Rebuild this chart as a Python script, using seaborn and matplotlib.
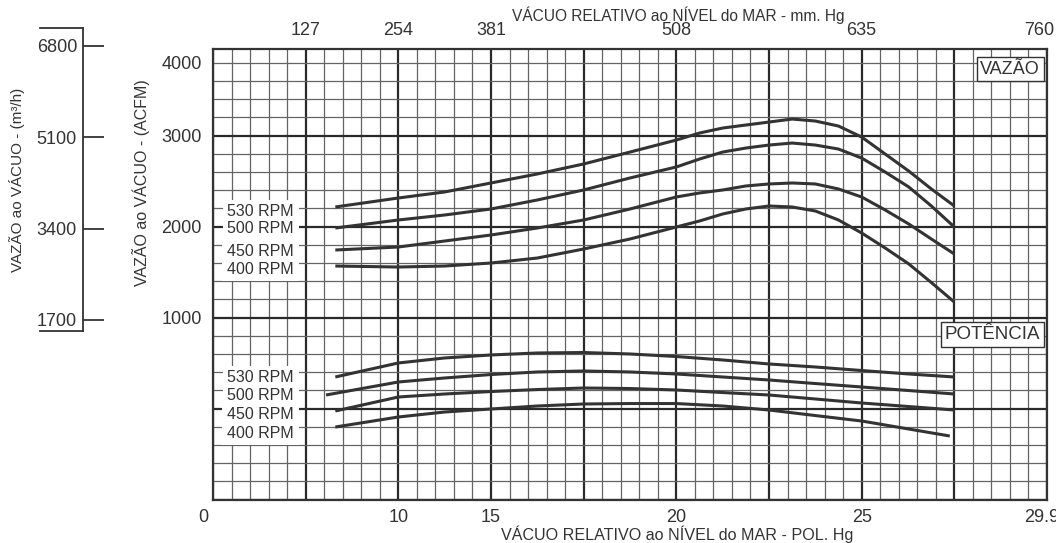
import numpy as np
import pandas as pd
import matplotlib
matplotlib.use('Agg')
import matplotlib.pyplot as plt
import matplotlib.transforms as mtransforms
import seaborn as sns

# escala do papel: pol. Hg -> divisoes maiores do grafico (nao linear)
brk_pol = [0, 5, 10, 15, 20, 25, 29.92]
brk_div = [0, 1, 2, 3, 5, 7, 9]

rpm_names = ['530 RPM', '500 RPM', '450 RPM', '400 RPM']

# curvas de vazao (ACFM)
vaz_x = [6.6, 10, 12.5, 15, 16.25, 17.5, 18.75, 20, 20.625, 21.25, 21.875,
         22.5, 23.125, 23.75, 24.375, 25, 25.625, 26.25, 26.85, 27.46]
vaz_530 = [2216, 2315, 2381, 2480, 2579, 2689, 2820, 2952, 3029, 3084, 3117,
           3150, 3183, 3161, 3106, 2985, 2798, 2611, 2414, 2227]
vaz_500 = [1985, 2073, 2128, 2194, 2293, 2403, 2535, 2656, 2743, 2820, 2864,
           2897, 2919, 2897, 2853, 2754, 2600, 2436, 2227, 1996]
vaz_450 = [1743, 1776, 1842, 1908, 1985, 2073, 2194, 2326, 2370, 2403, 2447,
           2469, 2480, 2469, 2414, 2326, 2183, 2029, 1864, 1699]
vaz_400 = [1567, 1556, 1567, 1600, 1655, 1754, 1864, 1996, 2062, 2139, 2194,
           2227, 2216, 2172, 2073, 1930, 1765, 1590, 1385, 1171]

# curvas de potencia (posicao no papel, sem escala propria)
pot_x = [6.6, 10, 12.5, 15, 16.25, 17.5, 18.75, 20, 21.25, 22.5, 23.75, 25, 26.25, 27.46]
pot_x_500 = [6.1, 10, 12.5, 15, 16.25, 17.5, 18.75, 20, 21.25, 22.5, 23.75, 25, 26.25, 27.46]
pot_x_400 = [6.6, 10, 12.5, 15, 16.25, 17.5, 18.75, 20, 21.25, 22.5, 23.75, 25, 26.25, 27.34]
pot_530 = [347, 501, 556, 589, 611, 616, 600, 572, 534, 490, 457, 418, 380, 347]
pot_500 = [149, 292, 336, 374, 402, 413, 402, 380, 347, 314, 275, 237, 198, 160]
pot_450 = [-27, 127, 160, 187, 209, 226, 220, 204, 176, 149, 105, 61, 22, -16]
pot_400 = [-203, -93, -38, -5, 28, 50, 55, 55, 28, -16, -77, -137, -225, -302]

# eixos
pol_ticks = [0, 10, 15, 20, 25, 29.92]
pol_labels = ['0', '10', '15', '20', '25', '29.92']
mm_ticks = [127, 254, 381, 508, 635, 760]
acfm_ticks = [1000, 2000, 3000, 4000]
m3h_ticks = [1700, 3400, 5100, 6800]

# layout (pixels da figura 1056x543)
W, H = 1056, 543
y_min, y_top = -1000, 3953
lbl_vaz_y = [2161, 1974, 1732, 1534]
lbl_pot_y = [336, 138, -60, -269]
ink = '#333333'


def fwd(x):
    return np.interp(x, brk_pol, brk_div)


def inv(d):
    return np.interp(d, brk_div, brk_pol)


curves = [(vaz_x, vaz_530), (vaz_x, vaz_500), (vaz_x, vaz_450), (vaz_x, vaz_400),
          (pot_x, pot_530), (pot_x_500, pot_500), (pot_x, pot_450), (pot_x_400, pot_400)]
rows = []
for i, (xs, ys) in enumerate(curves):
    for xv, yv in zip(xs, ys):
        rows.append({'curva': i, 'pol_hg': xv, 'valor': yv})
df = pd.DataFrame(rows)

sns.set_style('white')
plt.rcParams['font.family'] = ['Liberation Sans', 'DejaVu Sans']
plt.rcParams['text.color'] = ink

fig = plt.figure(figsize=(W / 100, H / 100), dpi=100)
ax = fig.add_axes([213 / W, 1 - 499.5 / H, 834 / W, 450.5 / H])
ax.set_xscale('function', functions=(fwd, inv))
ax.set_xlim(0, 29.92)
ax.set_ylim(y_min, y_top)

# papel milimetrado
for d in np.arange(0, 9.01, 0.2):
    major = abs(d - round(d)) < 1e-6
    ax.axvline(inv(d), color='#2a2a2a' if major else '#646464',
               lw=1.6 if major else 0.9, zorder=1)
for v in np.arange(y_min, y_top, 200):
    major = v % 1000 == 0
    ax.axhline(v, color='#2a2a2a' if major else '#646464',
               lw=1.6 if major else 0.9, zorder=1)

sns.lineplot(data=df, x='pol_hg', y='valor', units='curva', estimator=None,
             color=ink, linewidth=2.2, sort=False, ax=ax, zorder=3,
             solid_joinstyle='round', solid_capstyle='butt')

for sp in ax.spines.values():
    sp.set_color(ink)
    sp.set_linewidth(1.6)
    sp.set_zorder(5)

ax.set_xticks(pol_ticks)
ax.set_xticklabels(pol_labels)
ax.xaxis.set_minor_locator(plt.NullLocator())
# o rotulo 4000 fica logo abaixo da borda superior, como no original
ax.set_yticks(np.minimum(acfm_ticks, 3810))
ax.set_yticklabels([str(t) for t in acfm_ticks])
ax.tick_params(axis='x', length=0, pad=7, labelsize=13, labelcolor=ink)
ax.tick_params(axis='y', length=0, pad=8, labelsize=13, labelcolor=ink)
zero_lbl = ax.get_xticklabels()[0]
zero_lbl.set_transform(zero_lbl.get_transform() +
                       mtransforms.ScaledTranslation(-10 / 100, 0, fig.dpi_scale_trans))

ax.set_xlabel('VÁCUO RELATIVO ao NÍVEL do MAR - POL. Hg', fontsize=11.6, color=ink)
ax.xaxis.set_label_coords(0.5564, -0.058)
ax.set_ylabel('VAZÃO ao VÁCUO - (ACFM)', fontsize=11.5, color=ink)
ax.yaxis.set_label_coords(-0.0755, 0.7037)

# eixo superior em mm Hg
ax_top = ax.twiny()
ax_top.set_xscale('function', functions=(fwd, inv))
ax_top.set_xlim(0, 29.92)
ax_top.set_xticks([m / 25.4 for m in mm_ticks])
ax_top.set_xticklabels([str(m) for m in mm_ticks])
ax_top.xaxis.set_minor_locator(plt.NullLocator())
ax_top.tick_params(axis='x', length=0, pad=7.2, labelsize=13, labelcolor=ink)
last_lbl = ax_top.get_xticklabels()[-1]
last_lbl.set_transform(last_lbl.get_transform() +
                       mtransforms.ScaledTranslation(-8 / 100, 0, fig.dpi_scale_trans))
for sp in ax_top.spines.values():
    sp.set_visible(False)
ax_top.set_xlabel('VÁCUO RELATIVO ao NÍVEL do MAR - mm. Hg', fontsize=11.2, color=ink)
ax_top.xaxis.set_label_coords(0.5576, 1.0621)

# rotulos de rotacao
for name, yv in zip(rpm_names, lbl_vaz_y):
    ax.text(4.37, yv, name, ha='right', va='center', fontsize=11.5, zorder=4,
            bbox=dict(boxstyle='square,pad=0.3', fc='white', ec='none'))
for name, yv in zip(rpm_names, lbl_pot_y):
    ax.text(4.37, yv, name, ha='right', va='center', fontsize=11.5, zorder=4,
            bbox=dict(boxstyle='square,pad=0.3', fc='white', ec='none'))

box = dict(boxstyle='square,pad=0.2', fc='white', ec=ink, lw=1.0)
ax.text(0.9916, 0.9556, 'VAZÃO', transform=ax.transAxes, ha='right', va='center',
        fontsize=13, zorder=6, bbox=box)
ax.text(0.9916, 0.366, 'POTÊNCIA', transform=ax.transAxes, ha='right', va='center',
        fontsize=13.5, zorder=6, bbox=box)

# escala auxiliar em m3/h
axm = fig.add_axes([40 / W, 1 - 331 / H, 43 / W, 303 / H])
axm.set_facecolor('none')
axm.set_xlim(0, 1)
axm.set_ylim(1495, 7135)
axm.spines['left'].set_position(('axes', 1.0))
axm.spines['right'].set_visible(False)
for sp in axm.spines.values():
    sp.set_color(ink)
    sp.set_linewidth(1.3)
axm.set_xticks([])
axm.set_yticks(m3h_ticks)
axm.tick_params(axis='y', left=True, direction='in', length=15, width=1.3, color=ink,
                pad=4.3, labelsize=13, labelcolor=ink)
fig.text(17 / W, 1 - 180 / H, 'VAZÃO ao VÁCUO - (m³/h)', rotation=90,
         ha='center', va='center', fontsize=11, color=ink)

fig.savefig('out.png', dpi=100)
